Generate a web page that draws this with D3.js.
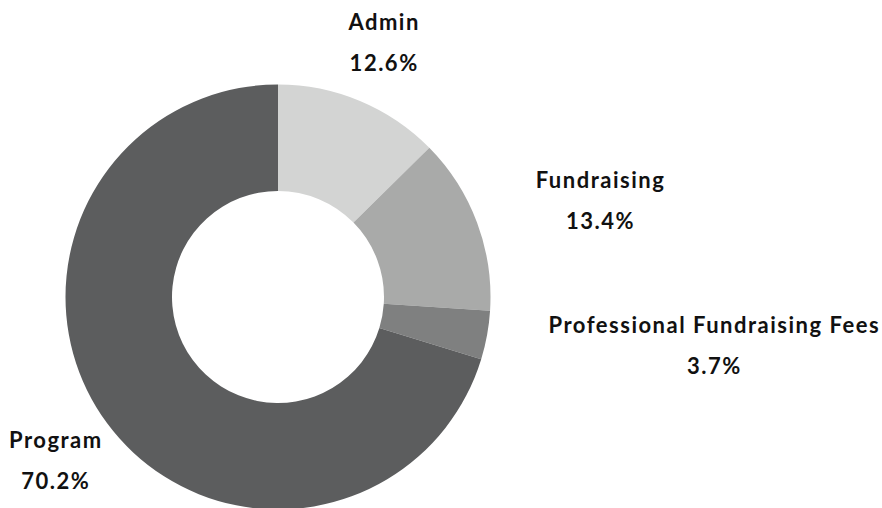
<!DOCTYPE html>
<html>
<head>
<meta charset="utf-8">
<script src="https://cdn.jsdelivr.net/npm/d3@7"></script>
<style>
  html, body { margin: 0; padding: 0; background: #ffffff; }
  svg { display: block; }
  .label { font-family: "Lato", "DejaVu Sans", sans-serif; font-weight: 700; font-size: 22px; letter-spacing: 1.5px; fill: #111111; }
</style>
</head>
<body>
<div id="canvas"></div>
<script>
// DATA
const categories = ["Admin", "Fundraising", "Professional Fundraising Fees", "Program"];
const shares = [12.6, 13.4, 3.7, 70.2];
const shareLabels = ["12.6%", "13.4%", "3.7%", "70.2%"];
const colors = ["#d3d4d3", "#a9aaa9", "#7f8080", "#5c5d5e"];

// DIMENSIONS
const width = 882;
const height = 508;
const cx = 278;
const cy = 297;
const outer = 212.5;
const inner = 106;
const labelRadius = 275;

const svg = d3.select("#canvas")
  .append("svg")
  .attr("width", width)
  .attr("height", height);

const plot = svg.append("g")
  .attr("transform", `translate(${cx},${cy})`);

const color = d3.scaleOrdinal().domain(categories).range(colors);

const pie = d3.pie().sort(null).value(d => d.value);
const arcs = pie(categories.map((c, i) => ({ name: c, value: shares[i], label: shareLabels[i] })));

const arc = d3.arc().innerRadius(inner).outerRadius(outer);

plot.selectAll("path.slice")
  .data(arcs)
  .join("path")
  .attr("class", "slice")
  .attr("d", arc)
  .style("fill", d => color(d.data.name));

// LABELS
const labelArc = d3.arc().innerRadius(labelRadius).outerRadius(labelRadius);

const groups = plot.selectAll("g.lab")
  .data(arcs)
  .join("g")
  .attr("class", "lab");

groups.append("text")
  .attr("class", "label")
  .attr("text-anchor", "middle")
  .attr("y", -13)
  .text(d => d.data.name);

groups.append("text")
  .attr("class", "label")
  .attr("text-anchor", "middle")
  .attr("y", 28)
  .text(d => d.data.label);

groups.attr("transform", function (d) {
  const [x, y] = labelArc.centroid(d);
  const w = d3.max(d3.select(this).selectAll("text").nodes(), n => n.getComputedTextLength());
  const mid = (d.startAngle + d.endAngle) / 2;
  const s = Math.sin(mid);
  let tx = x;
  if (s > 0.5) tx = x + w / 2;
  if (s < -0.5) tx = Math.max(x - w / 2, 9 - cx + w / 2);
  return `translate(${tx},${y})`;
});
</script>
</body>
</html>
